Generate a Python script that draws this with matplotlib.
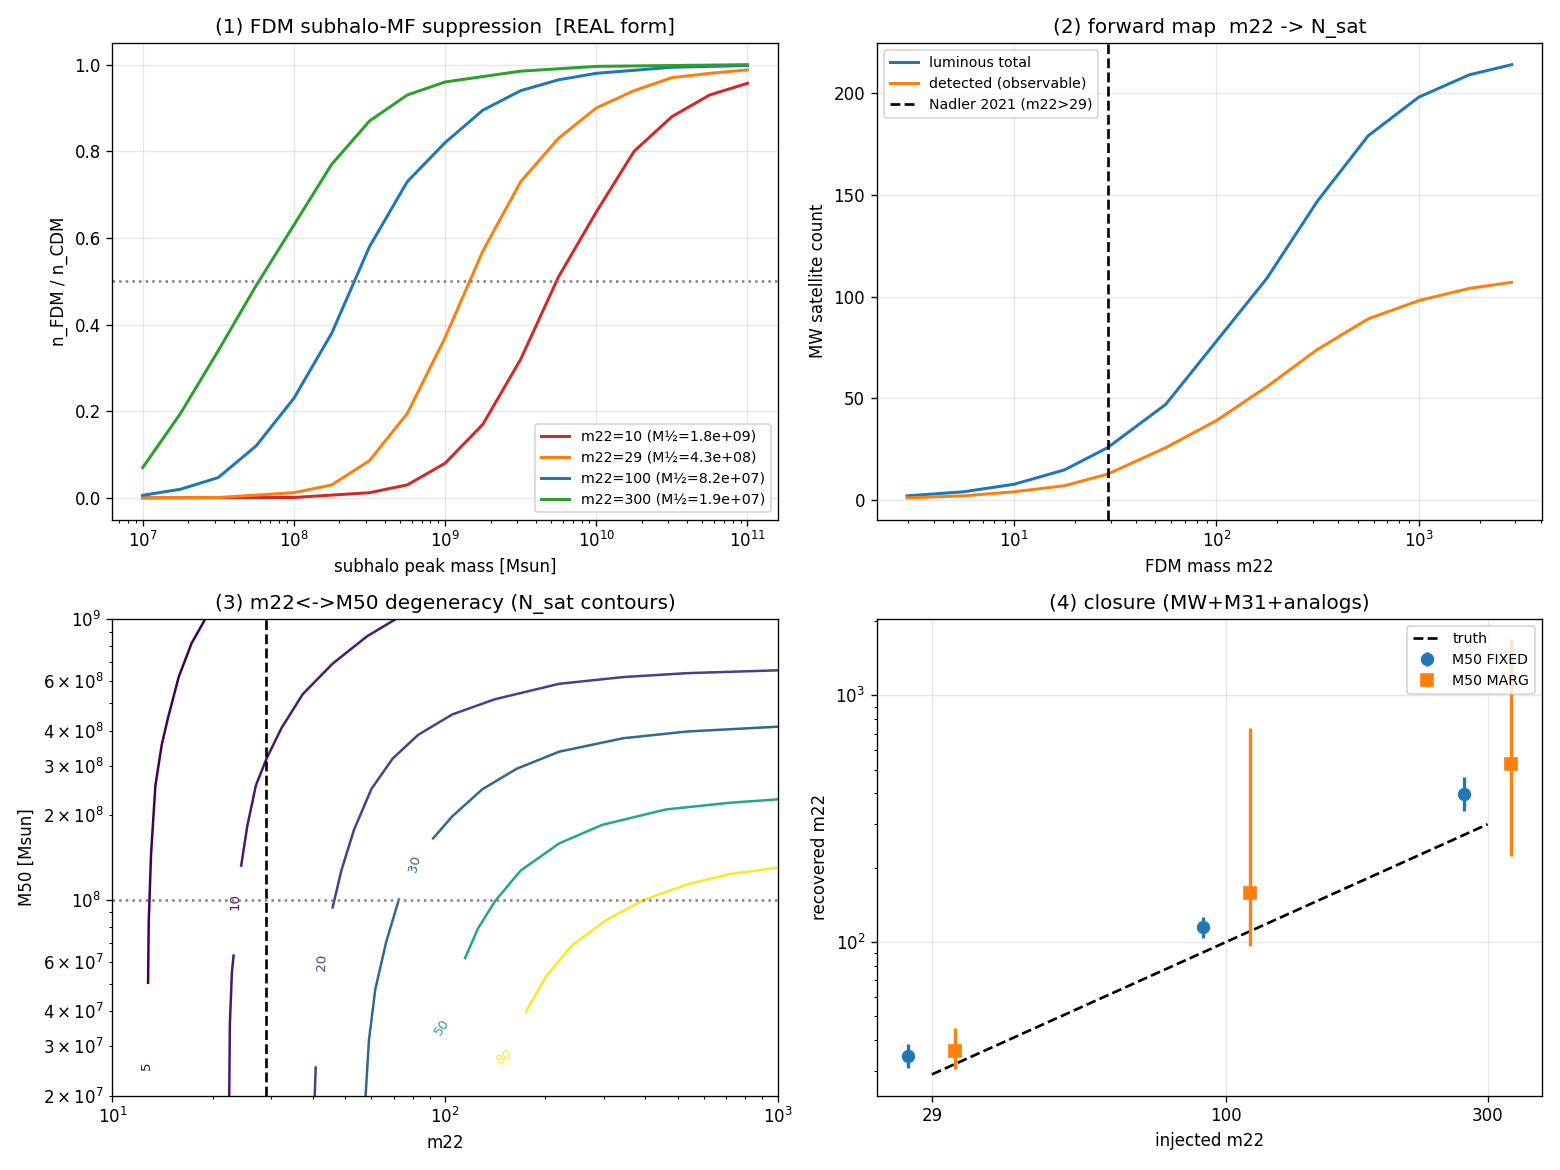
import numpy as np
import matplotlib.pyplot as plt
import matplotlib.ticker as ticker
from matplotlib.colors import Normalize

# ---- panel 1: suppression curves (log10 subhalo mass -> n_FDM/n_CDM)
p1_logm = {
    "red": [7, 8, 8.5, 8.75, 9, 9.25, 9.5, 9.75, 10, 10.25, 10.5, 10.75, 11],
    "orange": [7, 7.5, 8, 8.25, 8.5, 8.75, 9, 9.25, 9.5, 9.75, 10, 10.25, 10.5, 10.75, 11],
    "blue": [7, 7.25, 7.5, 7.75, 8, 8.25, 8.5, 8.75, 9, 9.25, 9.5, 9.75, 10, 10.5, 11],
    "green": [7, 7.25, 7.5, 7.75, 8, 8.25, 8.5, 8.75, 9, 9.5, 10, 11],
}
p1_ratio = {
    "red": [0, 0.001, 0.012, 0.03, 0.08, 0.17, 0.32, 0.51, 0.66, 0.80, 0.88, 0.93, 0.957],
    "orange": [0, 0.001, 0.012, 0.03, 0.086, 0.195, 0.37, 0.57, 0.73, 0.83, 0.90, 0.94, 0.97, 0.98, 0.988],
    "blue": [0.006, 0.02, 0.047, 0.12, 0.23, 0.38, 0.58, 0.73, 0.82, 0.895, 0.94, 0.965, 0.98, 0.994, 0.998],
    "green": [0.07, 0.195, 0.34, 0.49, 0.63, 0.77, 0.87, 0.93, 0.96, 0.985, 0.996, 1.0],
}
p1_labels = {
    "red": "m22=10 (M½=1.8e+09)",
    "orange": "m22=29 (M½=4.3e+08)",
    "blue": "m22=100 (M½=8.2e+07)",
    "green": "m22=300 (M½=1.9e+07)",
}
p1_colors = {"red": "tab:red", "orange": "tab:orange", "blue": "tab:blue", "green": "tab:green"}

# ---- panel 2: forward map (log10 m22 -> N_sat)
p2_logm = [0.471, 0.75, 1.0, 1.25, np.log10(29), 1.75, 2.0, 2.25, 2.5, 2.75, 3.0, 3.25, 3.46]
p2_total = [2.0, 4, 7.7, 14.8, 25.7, 47, 78, 109, 147, 179, 198, 209, 214]
p2_detect = [1.0, 2, 4, 7, 12.7, 25.7, 39, 55.7, 74, 89, 98, 104, 107]

# ---- panel 3: N_sat contours (log10 m22, log10 M50), split into pieces
p3_levels = [5, 10, 20, 30, 50, 80]
p3_pieces = {
    5: [([1.107, 1.109, 1.116, 1.129, 1.148, 1.167, 1.199, 1.238, 1.279],
         [7.703, 7.921, 8.163, 8.406, 8.551, 8.648, 8.793, 8.914, 9.0])],
    10: [([1.351, 1.353, 1.359, 1.364], [7.300, 7.558, 7.740, 7.800]),
         ([1.387, 1.405, 1.431, 1.463, 1.508, 1.572, 1.662, 1.765, 1.852],
          [8.121, 8.260, 8.406, 8.502, 8.611, 8.732, 8.841, 8.938, 9.0])],
    20: [([1.608, 1.611], [7.300, 7.401]),
         ([1.662, 1.688, 1.726, 1.778, 1.842, 1.919, 2.022, 2.150, 2.343, 2.536, 2.729, 2.999],
          [7.972, 8.103, 8.248, 8.393, 8.502, 8.587, 8.660, 8.714, 8.769, 8.793, 8.807, 8.817])],
    30: [([1.761, 1.771, 1.790, 1.823, 1.861], [7.300, 7.498, 7.679, 7.849, 8.0]),
         ([1.964, 2.022, 2.112, 2.215, 2.343, 2.536, 2.729, 2.999],
          [8.218, 8.297, 8.393, 8.466, 8.527, 8.575, 8.599, 8.616])],
    50: [([2.060, 2.099, 2.150, 2.227, 2.343, 2.472, 2.664, 2.857, 2.999],
          [7.791, 7.897, 7.994, 8.103, 8.200, 8.266, 8.321, 8.345, 8.357])],
    80: [([2.243, 2.305, 2.382, 2.485, 2.600, 2.729, 2.857, 2.999],
          [7.600, 7.728, 7.837, 7.927, 8.0, 8.054, 8.091, 8.113])],
}
# label positions (log10 m22, log10 M50, rotation)
p3_label_pos = {5: (1.103, 7.407, 90), 10: (1.370, 7.994, 90), 20: (1.630, 7.776, 88),
                30: (1.909, 8.127, 75), 50: (1.992, 7.545, 55), 80: (2.176, 7.438, 35)}

# ---- panel 4: closure test
m22_true = [29, 100, 300]
fixed_rec = [34.4, 115, 397]
fixed_lo = [30.8, 104, 338]
fixed_hi = [38.6, 126, 467]
marg_rec = [36, 158, 528]
marg_lo = [30.4, 96, 224]
marg_hi = [44.6, 738, 1690]

fig, axes = plt.subplots(2, 2, figsize=(13, 9.75), dpi=120)

# (1)
ax = axes[0, 0]
for k in ["red", "orange", "blue", "green"]:
    ax.plot(10 ** np.array(p1_logm[k]), p1_ratio[k], color=p1_colors[k], lw=1.8, label=p1_labels[k])
ax.axhline(0.5, color="gray", ls=":", lw=1.5)
ax.set_xscale("log")
ax.set_xlabel("subhalo peak mass [Msun]")
ax.set_ylabel("n_FDM / n_CDM")
ax.set_title("(1) FDM subhalo-MF suppression  [REAL form]", fontsize=12)
ax.grid(True, alpha=0.3)
ax.legend(fontsize=8.5, loc="lower right")

# (2)
ax = axes[0, 1]
ax.plot(10 ** np.array(p2_logm), p2_total, lw=1.8, label="luminous total")
ax.plot(10 ** np.array(p2_logm), p2_detect, lw=1.8, label="detected (observable)")
ax.axvline(29, color="k", ls="--", lw=1.6, label="Nadler 2021 (m22>29)")
ax.set_xscale("log")
ax.set_xlabel("FDM mass m22")
ax.set_ylabel("MW satellite count")
ax.set_title("(2) forward map  m22 -> N_sat", fontsize=12)
ax.grid(True, alpha=0.3)
ax.legend(fontsize=8.5, loc="upper left")

# (3)
ax = axes[1, 0]
norm = Normalize(vmin=min(p3_levels), vmax=max(p3_levels))
cmap = plt.get_cmap("viridis")
for lev in p3_levels:
    c = cmap(norm(lev))
    for xs, ys in p3_pieces[lev]:
        ax.plot(10 ** np.array(xs), 10 ** np.array(ys), color=c, lw=1.5)
    lx, ly, rot = p3_label_pos[lev]
    ax.text(10 ** lx, 10 ** ly, str(lev), color=c, fontsize=8, rotation=rot,
            ha="center", va="center")
ax.axvline(29, color="k", ls="--", lw=1.6)
ax.axhline(1e8, color="gray", ls=":", lw=1.5)
ax.set_xscale("log")
ax.set_yscale("log")
ax.set_xlim(10, 1000)
ax.set_ylim(2e7, 1e9)
ax.yaxis.set_minor_formatter(ticker.LogFormatterSciNotation(labelOnlyBase=False, minor_thresholds=(2, 0.4)))
ax.set_xlabel("m22")
ax.set_ylabel("M50 [Msun]")
ax.set_title("(3) m22<->M50 degeneracy (N_sat contours)", fontsize=12)

# (4)
ax = axes[1, 1]
mt = np.array(m22_true, dtype=float)
ax.plot(mt, mt, "k--", lw=1.6, label="truth")
fr = np.array(fixed_rec)
ax.errorbar(mt * 0.906, fr, yerr=[fr - np.array(fixed_lo), np.array(fixed_hi) - fr],
            fmt="o", color="tab:blue", ms=7, elinewidth=2, label="M50 FIXED")
mr = np.array(marg_rec)
ax.errorbar(mt * 1.104, mr, yerr=[mr - np.array(marg_lo), np.array(marg_hi) - mr],
            fmt="s", color="tab:orange", ms=7, elinewidth=2, label="M50 MARG")
ax.set_xscale("log")
ax.set_yscale("log")
ax.set_xlim(23, 377)
ax.set_ylim(23.8, 2040)
ax.set_xticks(m22_true)
ax.set_xticklabels([str(m) for m in m22_true])
ax.xaxis.set_minor_locator(ticker.NullLocator())
ax.yaxis.set_minor_formatter(ticker.NullFormatter())
ax.set_xlabel("injected m22")
ax.set_ylabel("recovered m22")
ax.set_title("(4) closure (MW+M31+analogs)", fontsize=12)
ax.grid(True, alpha=0.3)
ax.legend(fontsize=8.5, loc="upper right")

plt.tight_layout()
plt.savefig("out.png")
